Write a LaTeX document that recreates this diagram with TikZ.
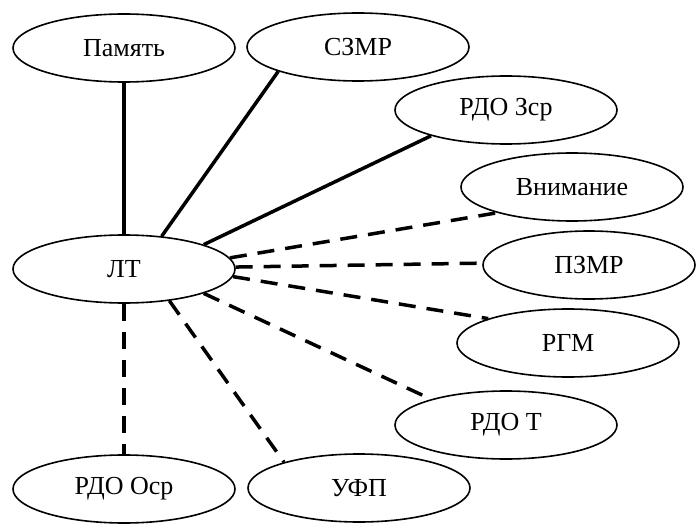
\documentclass[tikz,border=0pt]{standalone}
\usepackage{fontspec}
\setmainfont{Liberation Serif}
\usetikzlibrary{shapes.geometric}

\begin{document}
\begin{tikzpicture}[x=1pt, y=-1pt]
		\tikzstyle{every node}=[draw, ellipse, line width=1.6pt, minimum width=222pt, minimum height=68pt, inner sep=0pt, font=\fontsize{26}{30}\selectfont]
		\tikzstyle{strong}=[line width=3.5pt]
		\tikzstyle{weak}=[line width=3.5pt, dash pattern=on 17pt off 11pt]
		\useasboundingbox (0, 0) rectangle (696, 524);
		\node (Mem) at (124, 48) {Память};
		\node (SZMR) at (358, 47) {СЗМР};
		\node (RDOZ) at (506, 110) {РДО Зср};
		\node (Vnim) at (572, 187) {Внимание};
		\node (LT) at (124, 269) {ЛТ};
		\node[minimum width=212pt] (PZMR) at (589, 265) {ПЗМР};
		\node (RGM) at (568, 343) {РГМ};
		\node (RDOT) at (506, 425) {РДО Т};
		\node (RDOO) at (124, 489) {РДО Оср};
		\node (UFP) at (359, 488) {УФП};
		\draw [strong] (LT.90) -- (Mem.270);
		\draw [strong] (LT.41) -- (SZMR.197);
		\draw [strong] (LT.17) -- (RDOZ.199);
		\draw [weak] (LT.6) -- (Vnim.199);
		\draw [weak] (LT.1) -- (PZMR.179);
		\draw [weak] (LT.-4) -- (RGM.163);
		\draw [weak] (LT.-17) -- (RDOT.161);
		\draw [weak] (LT.-35) -- (UFP.161);
		\draw [weak] (LT.270) -- (RDOO.90);
\end{tikzpicture}
\end{document}
